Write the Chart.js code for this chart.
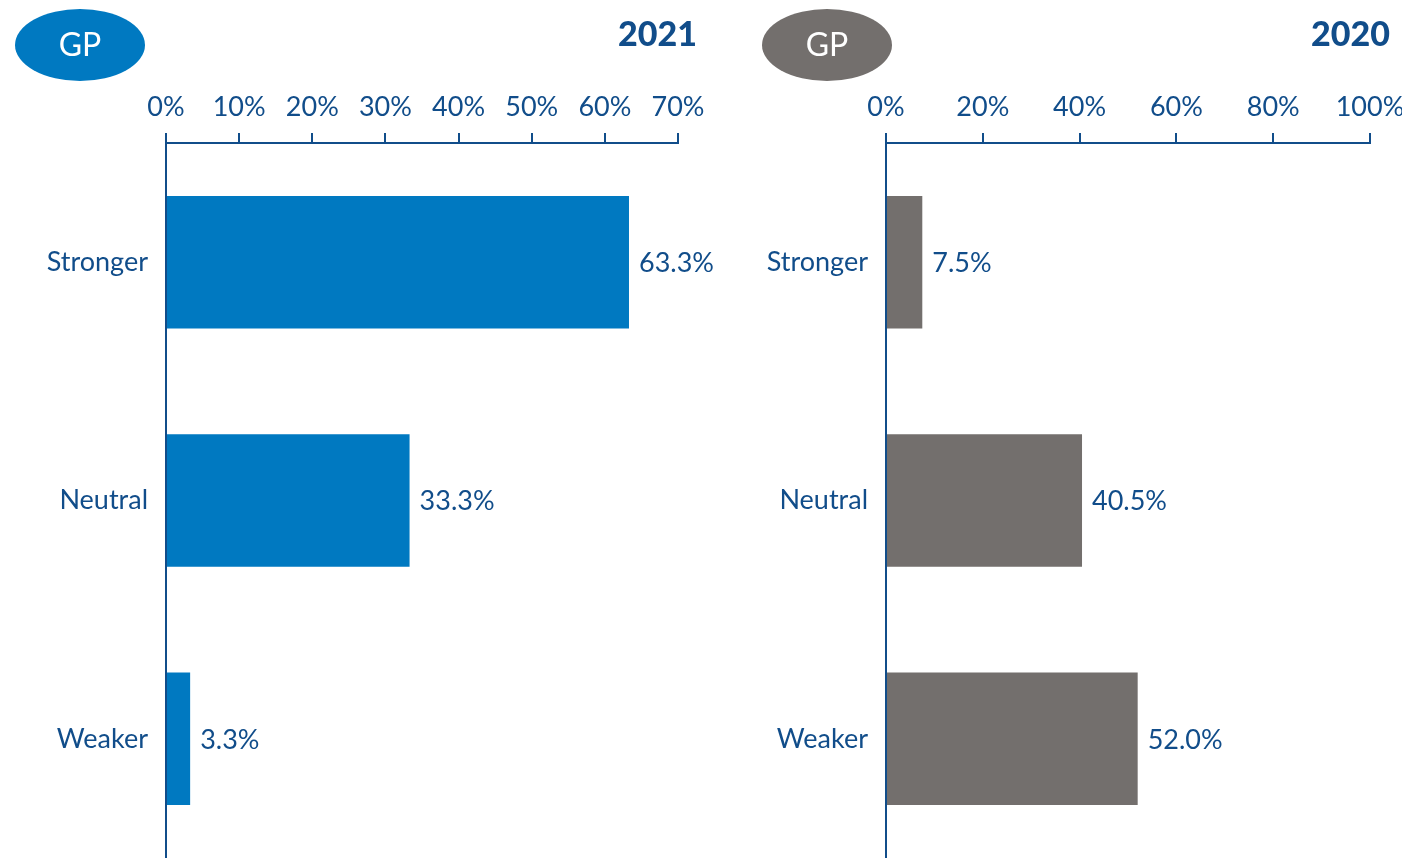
<!DOCTYPE html>
<html>
<head>
<meta charset="utf-8">
<script src="https://cdn.jsdelivr.net/npm/chart.js@4"></script>
<style>
  html, body { margin: 0; padding: 0; background: #fff; overflow: hidden; }
  .wrap { display: flex; width: 1402px; height: 858px; }
  canvas { display: block; }
</style>
</head>
<body>
<div class="wrap">
  <canvas id="c2021" width="720" height="858"></canvas>
  <canvas id="c2020" width="682" height="858"></canvas>
</div>
<script>
  const categories = ['Stronger', 'Neutral', 'Weaker'];
  const values2021 = [63.3, 33.3, 3.3];
  const values2020 = [7.5, 40.5, 52.0];
  const ticks2021 = [0, 10, 20, 30, 40, 50, 60, 70];
  const ticks2020 = [0, 20, 40, 60, 80, 100];

  const navy = '#114d8a';
  const FONT = 'Lato, "Open Sans", sans-serif';

  // draws value labels, the GP badge and the year
  const decor = {
    id: 'decor',
    afterDatasetsDraw(chart, args, opts) {
      const ctx = chart.ctx;
      const meta = chart.getDatasetMeta(0);
      ctx.save();
      ctx.font = '27px ' + FONT;
      ctx.fillStyle = navy;
      ctx.textAlign = 'left';
      ctx.textBaseline = 'middle';
      meta.data.forEach((bar, i) => {
        const v = chart.data.datasets[0].data[i];
        ctx.fillText(v.toFixed(1) + '%', bar.x + 10, bar.y + 1);
      });

      // badge
      ctx.fillStyle = opts.badgeColor;
      ctx.beginPath();
      ctx.ellipse(opts.badgeX, 45, 65, 36, 0, 0, Math.PI * 2);
      ctx.fill();
      ctx.fillStyle = '#fff';
      ctx.font = '32px ' + FONT;
      ctx.textAlign = 'center';
      ctx.fillText('GP', opts.badgeX, 46);

      // year
      ctx.fillStyle = navy;
      ctx.font = '900 34px ' + FONT;
      ctx.textAlign = 'right';
      ctx.fillText(opts.year, opts.yearX, 35);
      ctx.restore();
    }
  };

  function makeChart(id, values, tickList, color, rightPad, badgeX, year, yearX) {
    const max = tickList[tickList.length - 1];
    const step = tickList[1] - tickList[0];
    return new Chart(document.getElementById(id), {
      type: 'bar',
      data: {
        labels: categories,
        datasets: [{
          data: values,
          backgroundColor: color,
          categoryPercentage: 1,
          barPercentage: 0.556
        }]
      },
      options: {
        indexAxis: 'y',
        responsive: false,
        animation: false,
        layout: { padding: { left: 0, right: rightPad, top: 0, bottom: 0 } },
        plugins: {
          legend: { display: false },
          tooltip: { enabled: false },
          decor: { badgeColor: color, badgeX: badgeX, year: year, yearX: yearX }
        },
        scales: {
          x: {
            position: 'top',
            min: 0,
            max: max,
            afterFit(scale) {
              scale.height = 143;
              scale.paddingLeft = 0;
              scale.paddingRight = 0;
            },
            afterBuildTicks(scale) { scale.ticks = tickList.map(v => ({ value: v })); },
            ticks: {
              stepSize: step,
              color: navy,
              padding: 10,
              font: { family: FONT, size: 27 },
              callback: v => v + '%'
            },
            grid: {
              drawOnChartArea: false,
              drawTicks: true,
              tickLength: 10,
              color: navy,
              lineWidth: 2
            },
            border: { display: true, color: navy, width: 2 }
          },
          y: {
            afterFit(scale) {
              scale.width = 166;
              scale.paddingTop = 0;
              scale.paddingBottom = 0;
            },
            ticks: {
              color: navy,
              padding: 18,
              font: { family: FONT, size: 27 }
            },
            grid: { display: false, drawTicks: false },
            border: { display: true, color: navy, width: 2 }
          }
        }
      },
      plugins: [decor]
    });
  }

  makeChart('c2021', values2021, ticks2021, '#0079c1', 42, 80, '2021', 697);
  makeChart('c2020', values2020, ticks2020, '#736f6d', 32, 107, '2020', 670);
</script>
</body>
</html>
